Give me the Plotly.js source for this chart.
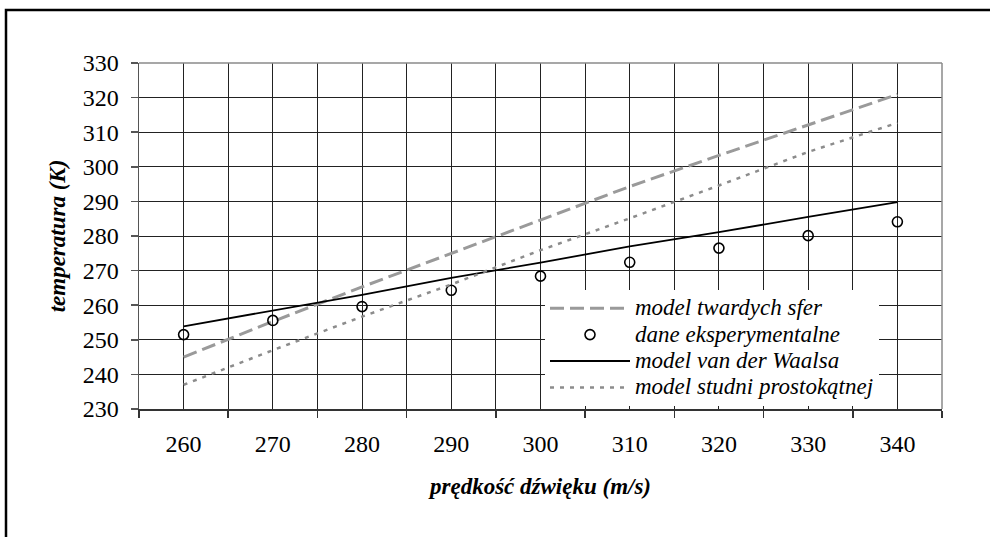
<!DOCTYPE html>
<html>
<head>
<meta charset="utf-8">
<script src="https://cdn.plot.ly/plotly-3.0.1.min.js"></script>
<style>body{margin:0;padding:0;background:#fff;}#chart{width:990px;height:537px;}</style>
</head>
<body>
<div id="chart"></div>
<script>
const speed = [260, 270, 280, 290, 300, 310, 320, 330, 340];
const hardSpheres = [245, 255.3, 265.3, 275, 284.8, 294.3, 303.3, 312.2, 320.9];
const experimental = [251.5, 255.6, 259.6, 264.3, 268.4, 272.4, 276.5, 280.1, 284.1];
const vanDerWaals = [253.9, 258.4, 263, 267.9, 272.3, 277, 281.1, 285.5, 289.8];
const squareWell = [237, 247, 256.7, 266, 275.9, 285.1, 294.6, 304.3, 312.7];
const seriesNames = ['model twardych sfer', 'dane eksperymentalne', 'model van der Waalsa', 'model studni prostokątnej'];
const xTitle = 'prędkość dźwięku (m/s)';
const yTitle = 'temperatura (K)';

const FONT = 'Liberation Serif';
const big = s => '<span style="font-size:23px">' + s + '</span>';

const traces = [
  {x: speed, y: hardSpheres, name: big(seriesNames[0]), mode: 'lines',
   line: {color: '#9a9a9a', width: 3, dash: '14px,6px'}},
  {x: speed, y: experimental, name: big(seriesNames[1]), mode: 'markers',
   marker: {symbol: 'circle-open', size: 10, color: '#000', line: {width: 1.6, color: '#000'}}},
  {x: speed, y: vanDerWaals, name: big(seriesNames[2]), mode: 'lines',
   line: {color: '#000', width: 1.8}},
  {x: speed, y: squareWell, name: big(seriesNames[3]), mode: 'lines',
   line: {color: '#8c8c8c', width: 2.5, dash: '4px,6px'}}
];

const L = 139, R = 942, T = 63, B = 409, W = 990, H = 537;
const pw = R - L, ph = B - T;

const layout = {
  width: W, height: H,
  margin: {l: L, r: W - R, t: T, b: H - B, pad: 0},
  paper_bgcolor: '#fff', plot_bgcolor: '#fff',
  showlegend: true,
  font: {family: FONT, color: '#000'},
  xaxis: {
    range: [255, 345], tickvals: speed, ticks: '', showgrid: true,
    gridcolor: '#222', gridwidth: 1, zeroline: false,
    showline: true, linecolor: '#333', linewidth: 1.5,
    tickfont: {family: FONT, size: 24, color: '#000'},
    ticklabelstandoff: 13,
    minor: {tick0: 255, dtick: 10, ticks: 'outside', ticklen: 7, tickcolor: '#333', tickwidth: 1.5,
            showgrid: true, gridcolor: '#222', gridwidth: 1},
    title: {text: xTitle, standoff: 21,
            font: {family: FONT, size: 23, weight: 'bold', style: 'italic', color: '#000'}}
  },
  yaxis: {
    range: [230, 330], dtick: 10, tick0: 230, ticks: 'outside', ticklen: 7, tickcolor: '#555', tickwidth: 1.5,
    showgrid: true, gridcolor: '#222', gridwidth: 1, zeroline: false,
    showline: true, linecolor: '#555', linewidth: 1.5,
    tickfont: {family: FONT, size: 24, color: '#000'},
    ticklabelstandoff: 7,
    title: {text: yTitle, standoff: 10,
            font: {family: FONT, size: 23, weight: 'bold', style: 'italic', color: '#000'}}
  },
  legend: {
    x: (545 - L) / pw, y: (B - 290) / ph, xanchor: 'left', yanchor: 'top',
    bgcolor: '#fff', borderwidth: 0, itemwidth: 80, tracegroupgap: 0,
    font: {family: FONT, size: 18, style: 'italic', color: '#000'}
  },
  shapes: [
    {type: 'line', xref: 'paper', yref: 'paper', x0: 0, x1: 1, y0: 1, y1: 1,
     line: {color: '#8a8a8a', width: 1.5}, layer: 'above'},
    {type: 'line', xref: 'paper', yref: 'paper', x0: 1, x1: 1, y0: 0, y1: 1,
     line: {color: '#8a8a8a', width: 1.5}, layer: 'above'},
    {type: 'rect', xref: 'paper', yref: 'paper',
     x0: (6 - L) / pw, x1: (1000 - L) / pw, y0: (B - 550) / ph, y1: (B - 10) / ph,
     line: {color: '#000', width: 2.5}, fillcolor: 'rgba(0,0,0,0)', layer: 'above'}
  ]
};

Plotly.newPlot('chart', traces, layout, {displayModeBar: false, staticPlot: true});
</script>
</body>
</html>
